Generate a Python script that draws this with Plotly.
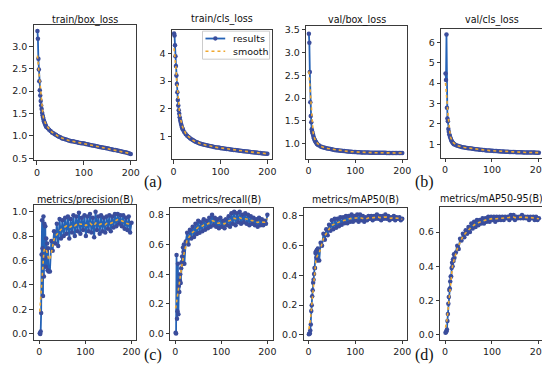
import numpy as np
import plotly.graph_objects as go

# ---------------- data ----------------
epochs = list(range(1, 21)) + list(range(23, 201, 3))

train_box_loss = [3.34, 3.17, 2.72, 2.48, 2.22, 2.02, 1.90, 1.78, 1.68, 1.60,
                  1.52, 1.46, 1.41, 1.37, 1.33, 1.30, 1.27, 1.25, 1.22, 1.20] + [
    1.17, 1.14, 1.11, 1.08, 1.06, 1.04, 1.02, 1.00, 0.98, 0.97,
    0.95, 0.94, 0.93, 0.92, 0.91, 0.90, 0.89, 0.885, 0.88, 0.87,
    0.865, 0.86, 0.85, 0.845, 0.84, 0.835, 0.83, 0.82, 0.815, 0.81,
    0.80, 0.795, 0.79, 0.78, 0.775, 0.77, 0.76, 0.755, 0.75, 0.745,
    0.74, 0.73, 0.725, 0.72, 0.71, 0.705, 0.70, 0.69, 0.685, 0.68,
    0.67, 0.665, 0.66, 0.65, 0.645, 0.635, 0.63, 0.62, 0.61, 0.60]

train_cls_loss = [4.72, 4.65, 4.30, 3.90, 3.55, 3.20, 2.90, 2.60, 2.32, 2.12,
                  1.95, 1.82, 1.70, 1.60, 1.52, 1.45, 1.39, 1.33, 1.28, 1.24] + [
    1.15, 1.08, 1.03, 0.98, 0.94, 0.90, 0.87, 0.84, 0.81, 0.79,
    0.77, 0.75, 0.73, 0.72, 0.70, 0.69, 0.68, 0.665, 0.655, 0.645,
    0.635, 0.625, 0.615, 0.605, 0.60, 0.59, 0.58, 0.575, 0.565, 0.56,
    0.55, 0.545, 0.54, 0.53, 0.525, 0.515, 0.51, 0.505, 0.50, 0.49,
    0.485, 0.48, 0.47, 0.465, 0.46, 0.455, 0.45, 0.44, 0.435, 0.43,
    0.425, 0.42, 0.41, 0.405, 0.40, 0.395, 0.39, 0.385, 0.38, 0.375]

val_box_loss = [3.41, 3.21, 2.57, 1.91, 1.61, 1.47, 1.32, 1.27, 1.23, 1.19,
                1.15, 1.12, 1.09, 1.07, 1.05, 1.03, 1.02, 1.00, 0.99, 0.98] + [
    0.96, 0.94, 0.93, 0.92, 0.91, 0.90, 0.895, 0.89, 0.885, 0.88,
    0.87, 0.865, 0.86, 0.855, 0.85, 0.845, 0.845, 0.84, 0.84, 0.835,
    0.83, 0.83, 0.825, 0.825, 0.82, 0.82, 0.82, 0.815, 0.815, 0.815,
    0.81, 0.81, 0.81, 0.81, 0.808, 0.806, 0.805, 0.805, 0.804, 0.803,
    0.803, 0.802, 0.802, 0.801, 0.80, 0.80, 0.80, 0.80, 0.799, 0.799,
    0.798, 0.798, 0.798, 0.797, 0.797, 0.797, 0.797, 0.797, 0.797, 0.797]

val_cls_loss = [4.47, 4.15, 6.38, 2.80, 2.27, 2.13, 1.75, 1.62, 1.50, 1.42,
                1.35, 1.28, 1.22, 1.17, 1.13, 1.10, 1.07, 1.04, 1.02, 1.00] + [
    0.97, 0.94, 0.92, 0.90, 0.88, 0.86, 0.85, 0.84, 0.83, 0.82,
    0.81, 0.80, 0.79, 0.78, 0.77, 0.76, 0.75, 0.745, 0.74, 0.73,
    0.725, 0.72, 0.71, 0.705, 0.70, 0.695, 0.69, 0.685, 0.68, 0.675,
    0.67, 0.665, 0.66, 0.655, 0.65, 0.647, 0.644, 0.64, 0.637, 0.634,
    0.631, 0.628, 0.625, 0.622, 0.62, 0.618, 0.616, 0.614, 0.612, 0.61,
    0.608, 0.606, 0.605, 0.604, 0.603, 0.602, 0.601, 0.60, 0.60, 0.60]

precision = [0.005, 0.0, 0.02, 0.17, 0.65, 0.93, 0.70, 0.31, 0.96, 0.47,
             0.90, 0.62, 0.88, 0.55, 0.78, 0.68, 0.74, 0.52, 0.70, 0.51] + [
    0.51, 0.76, 0.68, 0.84, 0.74, 0.90, 0.72, 0.94, 0.78, 0.93,
    0.80, 0.95, 0.82, 0.96, 0.78, 0.94, 0.83, 0.97, 0.80, 0.96,
    0.84, 0.99, 0.82, 0.95, 0.85, 0.97, 0.80, 0.96, 0.84, 0.98,
    0.83, 0.95, 0.79, 1.00, 0.85, 0.96, 0.82, 0.97, 0.84, 0.95,
    0.83, 0.96, 0.86, 0.97, 0.84, 0.96, 0.87, 0.98, 0.88, 0.98,
    0.90, 0.97, 0.88, 0.97, 0.86, 0.95, 0.85, 0.96, 0.83, 0.91]

recall = [0.005, 0.0, 0.53, 0.10, 0.15, 0.47, 0.13, 0.32, 0.28, 0.36,
          0.40, 0.34, 0.44, 0.48, 0.52, 0.47, 0.58, 0.55, 0.60, 0.47] + [
    0.62, 0.68, 0.60, 0.70, 0.64, 0.72, 0.65, 0.74, 0.67, 0.76,
    0.68, 0.75, 0.69, 0.77, 0.70, 0.76, 0.71, 0.78, 0.72, 0.80,
    0.73, 0.78, 0.72, 0.77, 0.71, 0.78, 0.72, 0.76, 0.71, 0.77,
    0.73, 0.79, 0.72, 0.81, 0.74, 0.82, 0.73, 0.81, 0.75, 0.82,
    0.74, 0.80, 0.75, 0.81, 0.74, 0.80, 0.73, 0.79, 0.74, 0.78,
    0.73, 0.77, 0.72, 0.78, 0.73, 0.77, 0.73, 0.76, 0.74, 0.80]

map50 = [0.005, 0.01, 0.01, 0.03, 0.07, 0.16, 0.20, 0.26, 0.30, 0.35,
         0.37, 0.41, 0.45, 0.45, 0.55, 0.56, 0.52, 0.57, 0.50, 0.58] + [
    0.50, 0.62, 0.60, 0.68, 0.64, 0.71, 0.67, 0.74, 0.70, 0.77,
    0.71, 0.78, 0.72, 0.78, 0.73, 0.79, 0.74, 0.79, 0.75, 0.80,
    0.75, 0.80, 0.76, 0.81, 0.76, 0.80, 0.77, 0.81, 0.76, 0.81,
    0.77, 0.80, 0.76, 0.79, 0.77, 0.80, 0.78, 0.80, 0.77, 0.80,
    0.78, 0.81, 0.78, 0.80, 0.77, 0.80, 0.78, 0.81, 0.78, 0.80,
    0.77, 0.79, 0.78, 0.80, 0.77, 0.79, 0.78, 0.79, 0.77, 0.78]

map50_95 = [0.01, 0.015, 0.02, 0.03, 0.08, 0.12, 0.18, 0.22, 0.26, 0.27,
            0.31, 0.34, 0.34, 0.39, 0.42, 0.40, 0.44, 0.43, 0.47, 0.45] + [
    0.48, 0.52, 0.50, 0.56, 0.55, 0.59, 0.57, 0.61, 0.59, 0.63,
    0.60, 0.65, 0.62, 0.66, 0.63, 0.67, 0.64, 0.67, 0.65, 0.68,
    0.65, 0.68, 0.66, 0.69, 0.66, 0.69, 0.67, 0.69, 0.66, 0.69,
    0.67, 0.69, 0.67, 0.69, 0.67, 0.69, 0.68, 0.69, 0.67, 0.70,
    0.68, 0.70, 0.67, 0.69, 0.68, 0.69, 0.68, 0.70, 0.68, 0.69,
    0.68, 0.69, 0.67, 0.69, 0.68, 0.69, 0.67, 0.69, 0.67, 0.68]

titles = ["train/box_loss", "train/cls_loss", "val/box_loss", "val/cls_loss",
          "metrics/precision(B)", "metrics/recall(B)", "metrics/mAP50(B)", "metrics/mAP50-95(B)"]
series = [train_box_loss, train_cls_loss, val_box_loss, val_cls_loss,
          precision, recall, map50, map50_95]
panel_labels = ["(a)", "(b)", "(c)", "(d)"]
legend_names = ["results", "smooth"]

# ---------------- layout (pixel boxes) ----------------
W, H = 550, 366
boxes = [  # x0, x1, y0(top), y1(bottom)
    (25, 129, 15, 152.7),
    (165, 266.7, 20, 151.7),
    (301, 403.3, 16.7, 151),
    (437.7, 540, 19, 150),
    (25, 129, 198.3, 335),
    (163.3, 267.3, 201, 335),
    (298.3, 403.3, 201, 335),
    (436.7, 541.7, 200, 335),
]
xranges = [(-7, 212), (-3.6, 210.5), (-4.8, 210.5), (-8.4, 207),
           (-12.2, 210.5), (-10.7, 212), (-10.5, 210.5), (-10.5, 210.5)]
yranges = [(0.46, 3.48), (0.18, 4.86), (0.676, 3.57), (0.36, 6.66),
           (-0.046, 1.054), (-0.04, 0.848), (-0.031, 0.855), (-0.029, 0.748)]
ydticks = [0.5, 1, 0.5, 1, 0.2, 0.2, 0.2, 0.2]
yfmts = [".1f", "d", ".1f", "d", ".1f", ".1f", ".1f", ".1f"]
title_y = [10, 9.5, 10, 10, 192.5, 192.5, 193, 192]
label_pos = [(146, 175), (421, 175), (146, 351), (421, 351)]

LINE = "#2462b6"
MARK = "#3a4d9c"
SMOOTH = "#f0a830"


def smooth(ep, y, sigma=3.0):
    ep = np.asarray(ep, float)
    y = np.asarray(y, float)
    d = ep[:, None] - ep[None, :]
    w = np.exp(-0.5 * (d / sigma) ** 2)
    return (w @ y) / w.sum(axis=1)


def px(x):
    return x / W


def py(y):
    return 1 - y / H


fig = go.Figure()
for i, (name, ys) in enumerate(zip(titles, series)):
    k = "" if i == 0 else str(i + 1)
    xa, ya = "x" + k, "y" + k
    fig.add_trace(go.Scatter(
        x=epochs, y=ys, mode="lines+markers", name="results",
        line=dict(color=LINE, width=1.8),
        marker=dict(color=MARK, size=4.5, line=dict(width=0)),
        xaxis=xa, yaxis=ya, showlegend=False))
    fig.add_trace(go.Scatter(
        x=epochs, y=smooth(epochs, ys), mode="lines", name="smooth",
        line=dict(color=SMOOTH, width=1.6, dash="dot"),
        xaxis=xa, yaxis=ya, showlegend=False))

    x0, x1, y0, y1 = boxes[i]
    axcommon = dict(showline=True, mirror=True, linecolor="#3a3a3a", linewidth=0.8,
                    ticks="outside", ticklen=3.5, tickwidth=0.8, tickcolor="#3a3a3a",
                    showgrid=False, zeroline=False,
                    tickfont=dict(family="DejaVu Sans", size=9.5, color="#222"))
    fig.layout["xaxis" + k] = dict(
        domain=[px(x0), px(x1)], range=list(xranges[i]), anchor=ya,
        tickmode="array", tickvals=[0, 100, 200], **axcommon)
    fig.layout["yaxis" + k] = dict(
        domain=[py(y1), py(y0)], range=list(yranges[i]), anchor=xa,
        dtick=ydticks[i], tick0=0, tickformat=yfmts[i], **axcommon)
    fig.add_annotation(text=name, x=px((x0 + x1) / 2), y=py(title_y[i]),
                       xref="paper", yref="paper", showarrow=False,
                       xanchor="center", yanchor="middle",
                       font=dict(family="DejaVu Sans", size=9.6, color="#111"))

for lab, (lx, ly) in zip(panel_labels, label_pos):
    fig.add_annotation(text=lab, x=px(lx), y=py(ly), xref="paper", yref="paper",
                       showarrow=False, xanchor="center", yanchor="middle",
                       font=dict(family="Liberation Serif", size=16, color="#111"))

# ---- legend drawn in the train/cls_loss panel (as in matplotlib) ----
shapes = [dict(type="rect", xref="paper", yref="paper",
               x0=px(196), x1=px(264), y0=py(50), y1=py(21.5),
               fillcolor="rgba(255,255,255,0.85)", line=dict(color="#cccccc", width=1))]
shapes.append(dict(type="line", xref="paper", yref="paper",
                   x0=px(199), x1=px(219), y0=py(29), y1=py(29),
                   line=dict(color=LINE, width=1.8)))
shapes.append(dict(type="circle", xref="paper", yref="paper",
                   x0=px(206.8), x1=px(211.2), y0=py(31.2), y1=py(26.8),
                   fillcolor=MARK, line=dict(width=0)))
shapes.append(dict(type="line", xref="paper", yref="paper",
                   x0=px(199), x1=px(219), y0=py(42), y1=py(42),
                   line=dict(color=SMOOTH, width=1.6, dash="dot")))
fig.update_layout(shapes=shapes)
for txt, ty in zip(legend_names, [29, 42]):
    fig.add_annotation(text=txt, x=px(225), y=py(ty), xref="paper", yref="paper",
                       showarrow=False, xanchor="left", yanchor="middle",
                       font=dict(family="DejaVu Sans", size=9.5, color="#111"))

fig.update_layout(
    width=W, height=H, margin=dict(l=0, r=0, t=0, b=0),
    paper_bgcolor="white", plot_bgcolor="white", showlegend=False,
)

fig.write_html("out.html")
